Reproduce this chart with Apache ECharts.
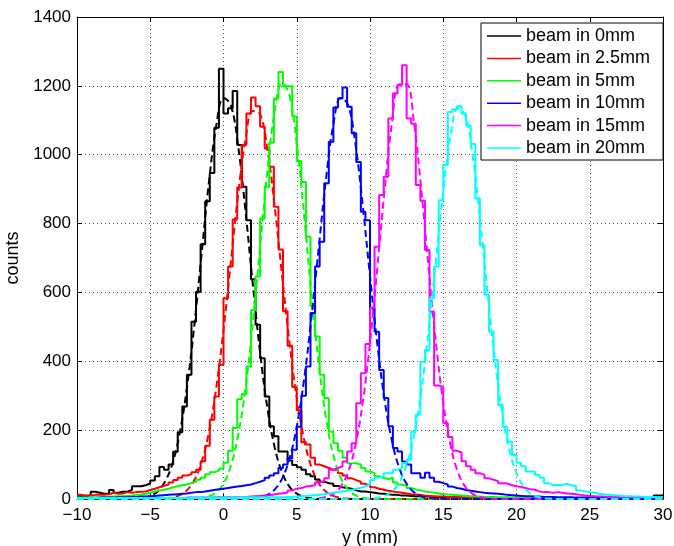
<!DOCTYPE html>
<html><head><meta charset="utf-8">
<script src="https://cdn.jsdelivr.net/npm/echarts@6/dist/echarts.min.js"></script>
<style>html,body{margin:0;padding:0;background:#fff}#c{width:674px;height:546px}</style>
</head><body><div id="c"></div>
<script>
// ---- data ----
const seriesNames = ['beam in 0mm', 'beam in 2.5mm', 'beam in 5mm', 'beam in 10mm', 'beam in 15mm', 'beam in 20mm'];
const binStart = -10;      // left edge of first histogram bin (mm)
const binWidth = 0.3125;   // histogram bin width (mm)

const histBlack = [8,8,10,21,18,15,15,26,18,21, 21,26,37,37,40,45,54,66,93,85, 100,137,194,269,361,515,602,740,865,947,
  1078,1250,1120,1135,1185,1028,907,810,638,506, 409,298,211,182,138,138,112,99,92,85, 72,66,57,50,46,44,38,34,32,30,
  25,22,22,20,18,16,15,14,12,12, 10,10,9,8,8,7,7,6,6,6, 5,5,5,5,4,4,4,4,4,4, 4,3,3,4,3,3,3,3,3,3,
  3,3,3,3,3,3,3,3,3,3, 3,3,3,3,3,3,3,3,3,3, 3,3,3,3,3,4,10,10];
const histRed = [12,10,10,12,13,12,14,18,15,16, 20,18,20,21,22,26,30,34,38,42, 48,55,62,68,72,78,85,110,155,230,
  298,390,583,675,812,905,1028,1120,1166,1141, 1081,1018,965,849,725,545,445,325,258,165, 158,120,100,95,90,85,85,75,68,60,
  55,50,44,40,34,30,27,24,22,20, 18,16,14,13,12,10,9,8,7,7, 6,6,5,5,5,5,4,4,4,4, 4,3,3,3,3,3,3,3,3,3,
  3,3,3,3,3,3,3,3,3,3, 3,3,3,3,3,3,3,3,3,3, 3,3,3,3,3,3,3,3];
const histGreen = [4,4,5,5,5,6,6,7,8,8, 9,10,12,13,15,18,22,25,27,30, 34,37,40,42,46,50,56,62,72,78,
  82,88,105,140,206,290,305,385,549,646, 815,907,1035,1163,1240,1199,1199,1112,982,921, 762,560,472,361,293,195,162,140,120,104,
  104,100,90,80,75,66,61,58,62,48, 42,38,32,28,25,22,20,18,16,14, 13,12,11,10,9,8,8,7,6,6, 5,5,5,5,4,4,4,4,4,4,
  3,3,3,3,3,3,3,3,3,3, 3,3,3,3,3,3,3,3,3,3, 3,3,3,3,3,3,3,3];
const histBlue = [3,3,3,3,4,4,4,4,5,5, 5,6,6,7,7,8,9,10,11,12, 13,14,15,16,18,20,20,22,24,26,
  28,30,32,34,36,38,40,42,46,50, 55,62,68,75,90,100,118,143,210,300, 385,540,675,747,917,1038,1137,1163,1195,1139,
  1062,979,834,810,554,486,375,293,211,148, 138,109,100,75,75,62,76,62,50,46, 42,36,32,30,26,24,22,20,18,17,
  16,15,14,12,11,10,9,8,8,7, 7,6,6,6,5,5,5,5,4,4, 4,4,4,4,4,4,4,4,4,4, 4,4,4,4,4,4,4,4];
const histMagenta = [3,3,3,3,3,3,3,3,3,3, 3,3,3,3,3,3,3,3,3,3, 3,3,3,4,4,4,4,4,4,5,
  5,5,5,5,5,5,6,7,8,9, 10,11,13,15,17,19,25,30,32,36, 38,40,48,52,60,85,90,95,109,138,
  162,278,365,450,555,733,883,936,1105,1178, 1202,1260,1105,1090,912,866,723,544,330,325, 220,180,140,135,110,95,85,75,70,60,
  56,52,46,45,40,37,35,32,28,27, 22,20,20,18,20,18,16,15,14,12, 10,9,8,7,7,6,6,5,5,5, 5,4,4,4,4,4,4,4];
const histCyan = [3,3,3,3,3,3,3,3,3,3, 3,3,3,3,3,3,3,3,3,3, 3,3,3,3,3,4,4,4,4,4,
  4,4,4,4,4,5,5,5,5,5, 5,5,5,5,5,6,6,7,8,9, 10,11,12,14,16,18,20,22,24,26,
  30,33,37,42,55,62,66,75,75,85, 90,104,114,196,245,399,433,583,675,868, 970,1124,1132,1141,1120,1084,1031,873,737,593,
  486,404,273,210,167,128,105,95,80,80, 70,62,46,41,41,41,44,40,38,25, 22,20,18,15,14,12,11,10,9,8, 8,7,7,6,6,6,5,5];

// Gaussian fits as [x, counts]
const fitBlack = [[-10,0],[-7,0],[-6,2],[-5.5,3],[-5,9],[-4.5,22],[-4,50],[-3.5,101],[-3,189],[-2.5,322],[-2,501],[-1.5,710],[-1,918],[-0.5,1082],[0,1165],[0.5,1144],[1,1025],[1.5,837],[2,624],[2.5,425],[3,263],[3.5,149],[4,77],[4.5,36],[5,16],[5.5,6],[6,2],[7,0],[30,0]];
const fitRed = [[-10,0],[-4.5,0],[-3.5,4],[-3,11],[-2.5,25],[-2,54],[-1.5,106],[-1,193],[-0.5,322],[0,491],[0.5,688],[1,885],[1.5,1043],[2,1127],[2.5,1118],[3,1016],[3.5,847],[4,648],[4.5,455],[5,293],[5.5,173],[6,93],[6.5,46],[7,21],[7.5,9],[8,3],[8.5,1],[9.5,0],[30,0]];
const fitGreen = [[-10,0],[-2.5,0],[-1.5,3],[-1,8],[-0.5,19],[0,45],[0.5,96],[1,185],[1.5,323],[2,511],[2.5,734],[3,955],[3.5,1128],[4,1208],[4.5,1173],[5,1033],[5.5,825],[6,598],[6.5,393],[7,234],[7.5,127],[8,62],[8.5,28],[9,11],[9.5,4],[10,1],[11,0],[30,0]];
const fitBlue = [[-10,0],[1.5,0],[2.5,5],[3,12],[3.5,28],[4,59],[4.5,117],[5,210],[5.5,347],[6,526],[6.5,730],[7,931],[7.5,1088],[8,1165],[8.5,1145],[9,1033],[9.5,854],[10,647],[10.5,450],[11,287],[11.5,168],[12,90],[12.5,44],[13,20],[13.5,8],[14,3],[14.5,1],[15.5,0],[30,0]];
const fitMagenta = [[-10,0],[5.5,0],[6.5,2],[7,6],[7.5,15],[8,36],[8.5,78],[9,155],[9.5,279],[10,454],[10.5,671],[11,899],[11.5,1093],[12,1205],[12.5,1205],[13,1093],[13.5,899],[14,671],[14.5,454],[15,279],[15.5,155],[16,78],[16.5,36],[17,15],[17.5,6],[18,2],[19,0],[30,0]];
const fitCyan = [[-10,0],[9.5,0],[10.5,3],[11,9],[11.5,22],[12,48],[12.5,99],[13,184],[13.5,314],[14,488],[14.5,691],[15,894],[15.5,1055],[16,1135],[16.5,1115],[17,999],[17.5,816],[18,608],[18.5,414],[19,256],[19.5,145],[20,75],[20.5,35],[21,15],[21.5,6],[22,2],[23,0],[30,0]];

const xRange = [-10, 30], xStep = 5;
const yRange = [0, 1400], yStep = 200;
const xLabel = 'y (mm)', yLabel = 'counts';

// ---- styles ----
const colors = ['#000000', '#ff0000', '#00ff00', '#0000ff', '#ff00ff', '#00ffff'];
const FONT = '"Liberation Sans", Arial, Helvetica, sans-serif';

const hists = [histBlack, histRed, histGreen, histBlue, histMagenta, histCyan];
const fits = [fitBlack, fitRed, fitGreen, fitBlue, fitMagenta, fitCyan];

function histPoints(vals) {
  const pts = vals.map((v, i) => [binStart + i * binWidth, v]);
  pts.push([binStart + vals.length * binWidth, vals[vals.length - 1]]);
  return pts;
}

const series = [];
hists.forEach((h, i) => {
  series.push({
    type: 'line', name: seriesNames[i], data: histPoints(h), step: 'end',
    symbol: 'none', showSymbol: false, silent: true,
    lineStyle: { color: colors[i], width: 2 }, itemStyle: { color: colors[i] }
  });
  series.push({
    type: 'line', name: seriesNames[i] + ' fit', data: fits[i], smooth: 0.4,
    symbol: 'none', showSymbol: false, silent: true,
    lineStyle: { color: colors[i], width: 2, type: [7, 4] }, itemStyle: { color: colors[i] }
  });
});

const fmtNum = v => (v < 0 ? '\u2212' + Math.abs(v) : String(v));
const gridLine = { show: true, lineStyle: { color: '#555', width: 1, type: [1, 3] } };
const axisLine = { show: true, onZero: false, lineStyle: { color: '#000', width: 1 } };
const tickIn = { show: true, inside: true, length: 5, lineStyle: { color: '#000', width: 1 } };

const chart = echarts.init(document.getElementById('c'), null, { renderer: 'canvas' });
chart.setOption({
  animation: false,
  backgroundColor: '#fff',
  textStyle: { fontFamily: FONT },
  grid: { left: 77, top: 17, width: 586, height: 482, containLabel: false, outerBoundsMode: 'none' },
  legend: {
    data: seriesNames, orient: 'vertical', left: 481, top: 23,
    icon: 'rect', itemWidth: 34, itemHeight: 1.5, itemGap: 4.4,
    padding: [4, 13, 3, 6],
    backgroundColor: '#fff', borderColor: '#000', borderWidth: 1, borderRadius: 0,
    textStyle: { fontFamily: FONT, fontSize: 18, color: '#000', lineHeight: 18 },
    selectedMode: false
  },
  xAxis: [{
    type: 'value', min: xRange[0], max: xRange[1], interval: xStep, position: 'bottom',
    name: xLabel, nameLocation: 'middle', nameGap: 19,
    nameTextStyle: { fontFamily: FONT, fontSize: 18, color: '#000' },
    axisLine, axisTick: tickIn, splitLine: gridLine,
    axisLabel: { fontFamily: FONT, fontSize: 17, color: '#000', margin: 8, formatter: fmtNum }
  }, {
    type: 'value', min: xRange[0], max: xRange[1], interval: xStep, position: 'top',
    axisLine, axisTick: tickIn, splitLine: { show: false }, axisLabel: { show: false }
  }],
  yAxis: [{
    type: 'value', min: yRange[0], max: yRange[1], interval: yStep, position: 'left',
    name: yLabel, nameLocation: 'middle', nameGap: 46,
    nameTextStyle: { fontFamily: FONT, fontSize: 18, color: '#000' },
    axisLine, axisTick: tickIn, splitLine: gridLine,
    axisLabel: { fontFamily: FONT, fontSize: 17, color: '#000', margin: 6, formatter: fmtNum }
  }, {
    type: 'value', min: yRange[0], max: yRange[1], interval: yStep, position: 'right',
    axisLine, axisTick: tickIn, splitLine: { show: false }, axisLabel: { show: false }
  }],
  series
});
</script></body></html>
